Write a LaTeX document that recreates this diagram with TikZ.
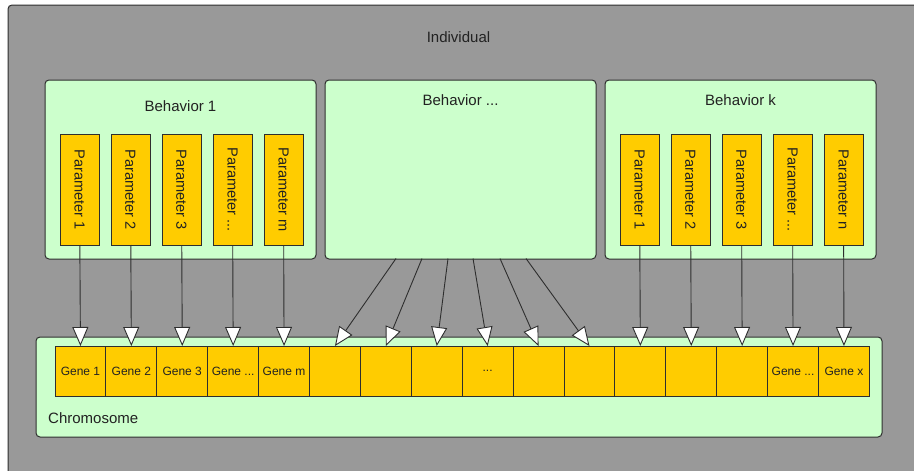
\documentclass[tikz,border=0pt]{standalone}
\usepackage{fontspec}
\setmainfont{Liberation Sans}
\usetikzlibrary{arrows.meta}

\definecolor{panelgrey}{HTML}{999999}
\definecolor{mint}{HTML}{CCFFCC}
\definecolor{amber}{HTML}{FFCC00}
\definecolor{ink}{HTML}{2E2E2E}
\definecolor{txt}{HTML}{222222}

% three dots, kept out of \foreach lists
\newcommand{\elide}{...}

\tikzset{
  container/.style={draw=ink, line width=1pt, rounded corners=4pt, inner sep=0pt, outer sep=0pt, anchor=north west},
  groupbox/.style={container, fill=mint},
  parambox/.style={draw=ink, line width=0.9pt, fill=amber, inner sep=0pt, outer sep=0pt,
    minimum width=39pt, minimum height=111pt},
  paramtext/.style={rotate=-90, text=txt, inner sep=0pt, font=\fontsize{14.6}{16}\selectfont},
  genebox/.style={draw=ink, line width=0.9pt, fill=amber, inner sep=0pt, outer sep=0pt,
    minimum width=50.9pt, minimum height=50pt, text=txt, font=\fontsize{12}{14}\selectfont},
  caption/.style={text=txt, inner sep=0pt, font=\fontsize{15}{17}\selectfont},
  link/.style={draw=ink, line width=0.9pt,
    -{Triangle[length=19pt, width=16pt, fill=white, line width=0.9pt]}},
}

\begin{document}
\begin{tikzpicture}[x=1pt, y=-1pt]
  \useasboundingbox (0,0) rectangle (914,471);
  \clip (0,0) rectangle (914,471);
  \fill[white] (0,0) rectangle (914,471);

  % outer container
  \node[container, fill=panelgrey, minimum width=940pt, minimum height=500pt] (individual) at (8,5) {};
  \node[caption] (individualLabel) at (458.5,37) {Individual};

  % behaviour groups
  \node[groupbox, minimum width=271pt, minimum height=179pt] (beh1) at (45,80) {};
  \node[groupbox, minimum width=271pt, minimum height=179pt] (behmid) at (325,80) {};
  \node[groupbox, minimum width=271pt, minimum height=179pt] (behk) at (605,80) {};
  \node[caption] (beh1Label) at (180.5,106) {Behavior 1};
  \node[caption] (behmidLabel) at (460.5,100) {Behavior \elide};
  \node[caption] (behkLabel) at (740.5,100) {Behavior k};

  % parameters of the first behaviour
  \foreach \i/\t in {0/1,1/2,2/3,3/\elide,4/m} {
    \node[parambox] (pa\i) at ({79.5+51*\i},189.5) {};
    \node[paramtext] (pa\i t) at (pa\i) {Parameter \t};
  }
  % parameters of the last behaviour
  \foreach \i/\t in {0/1,1/2,2/3,3/\elide,4/n} {
    \node[parambox] (pk\i) at ({639.5+51*\i},189.5) {};
    \node[paramtext] (pk\i t) at (pk\i) {Parameter \t};
  }

  % chromosome
  \node[groupbox, minimum width=846pt, minimum height=100pt] (chrom) at (36,337) {};
  \node[caption, anchor=west] (chromLabel) at (48,418) {Chromosome};

  \foreach \i/\t in {1/Gene 1,2/Gene 2,3/Gene 3,4/Gene \elide,5/Gene m,6/,7/,8/,9/\elide,10/,11/,12/,13/,14/,15/Gene \elide,16/Gene x} {
    \node[genebox] (g\i) at ({55+50.9*(\i-0.5)},371) {\t};
  }

  % parameter to gene links
  \foreach \i [evaluate=\i as \g using int(\i+1)] in {0,1,2,3,4} {
    \draw[link] (pa\i) -- (g\g.north);
  }
  \foreach \i [evaluate=\i as \g using int(\i+12)] in {0,1,2,3,4} {
    \draw[link] (pk\i) -- (g\g.north);
  }

  % links from the middle behaviour
  \coordinate (m1) at (396,258.5);
  \coordinate (m2) at (422,258.5);
  \coordinate (m3) at (448,258.5);
  \coordinate (m4) at (473,258.5);
  \coordinate (m5) at (500,258.5);
  \coordinate (m6) at (526,258.5);
  \draw[link] (m1) -- (g6.north);
  \draw[link] (m2) -- (g7.north);
  \draw[link] (m3) -- (g8.north);
  \draw[link] (m4) -- (g9.north);
  \draw[link] (m5) -- (g10.north);
  \draw[link] (m6) -- (g11.north);
\end{tikzpicture}
\end{document}
